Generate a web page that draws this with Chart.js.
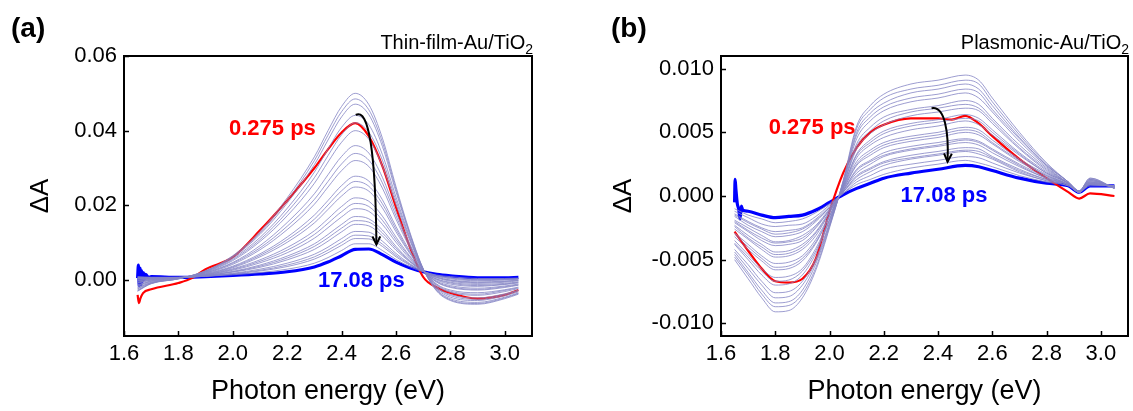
<!DOCTYPE html>
<html>
<head>
<meta charset="utf-8">
<script src="https://cdn.jsdelivr.net/npm/chart.js@4.4.1/dist/chart.umd.min.js"></script>
<style>
  body { margin: 0; background: #fff; }
  #wrap { position: relative; width: 1133px; height: 411px; }
  canvas { position: absolute; top: 0; }
  #chartA { left: 0; }
  #chartB { left: 566px; }
</style>
</head>
<body>
<div id="wrap">
  <canvas id="chartA" width="566" height="411"></canvas>
  <canvas id="chartB" width="567" height="411"></canvas>
</div>
<script>
// ---- tick labels ----
const X_TICKS = [1.6, 1.8, 2.0, 2.2, 2.4, 2.6, 2.8, 3.0];
const Y_TICKS_A = [0, 0.02, 0.04, 0.06];
const Y_TICKS_B = [-0.010, -0.005, 0, 0.005, 0.010];

// ---- panel (a): Thin-film-Au/TiO2 ----
const X_A = [1.65, 1.7, 1.8, 1.9, 2.0, 2.1, 2.2, 2.3, 2.35, 2.4, 2.45, 2.5, 2.55, 2.6, 2.65, 2.7, 2.75, 2.8, 2.9, 3.0, 3.05];
// intermediate delays, largest signal first
const GRAY_A = [
  [-0.0030, -0.0010, 0.0003, 0.0025, 0.0065, 0.0130, 0.0220, 0.0330, 0.0400, 0.0465, 0.0500, 0.0470, 0.0380, 0.0250, 0.0130, 0.0030, -0.0030, -0.0055, -0.0065, -0.0050, -0.0038],
  [-0.0029, -0.0009, 0.0003, 0.0024, 0.0063, 0.0126, 0.0213, 0.0320, 0.0388, 0.0451, 0.0485, 0.0456, 0.0369, 0.0243, 0.0127, 0.0030, -0.0028, -0.0053, -0.0063, -0.0048, -0.0036],
  [-0.0027, -0.0009, 0.0003, 0.0024, 0.0061, 0.0122, 0.0206, 0.0309, 0.0375, 0.0437, 0.0471, 0.0443, 0.0358, 0.0236, 0.0123, 0.0029, -0.0027, -0.0050, -0.0060, -0.0046, -0.0035],
  [-0.0024, -0.0008, 0.0004, 0.0023, 0.0058, 0.0114, 0.0192, 0.0289, 0.0351, 0.0409, 0.0441, 0.0416, 0.0336, 0.0222, 0.0116, 0.0029, -0.0024, -0.0046, -0.0055, -0.0042, -0.0032],
  [-0.0022, -0.0007, 0.0004, 0.0022, 0.0055, 0.0108, 0.0182, 0.0274, 0.0333, 0.0389, 0.0421, 0.0396, 0.0321, 0.0212, 0.0112, 0.0028, -0.0021, -0.0042, -0.0052, -0.0039, -0.0029],
  [-0.0020, -0.0006, 0.0004, 0.0021, 0.0052, 0.0103, 0.0172, 0.0259, 0.0316, 0.0369, 0.0400, 0.0377, 0.0305, 0.0202, 0.0107, 0.0028, -0.0019, -0.0039, -0.0048, -0.0037, -0.0027],
  [-0.0017, -0.0004, 0.0004, 0.0020, 0.0047, 0.0092, 0.0154, 0.0231, 0.0282, 0.0331, 0.0360, 0.0340, 0.0275, 0.0182, 0.0098, 0.0027, -0.0015, -0.0033, -0.0041, -0.0031, -0.0023],
  [-0.0015, -0.0003, 0.0005, 0.0019, 0.0045, 0.0086, 0.0144, 0.0216, 0.0264, 0.0311, 0.0339, 0.0321, 0.0260, 0.0172, 0.0093, 0.0027, -0.0013, -0.0030, -0.0038, -0.0028, -0.0021],
  [-0.0013, -0.0002, 0.0005, 0.0018, 0.0042, 0.0081, 0.0135, 0.0203, 0.0249, 0.0293, 0.0320, 0.0304, 0.0246, 0.0163, 0.0088, 0.0027, -0.0011, -0.0027, -0.0034, -0.0026, -0.0019],
  [-0.0009, 0.0000, 0.0005, 0.0017, 0.0037, 0.0070, 0.0115, 0.0174, 0.0213, 0.0253, 0.0278, 0.0265, 0.0215, 0.0143, 0.0079, 0.0026, -0.0006, -0.0020, -0.0027, -0.0020, -0.0014],
  [-0.0007, 0.0000, 0.0005, 0.0016, 0.0035, 0.0066, 0.0108, 0.0163, 0.0201, 0.0239, 0.0264, 0.0251, 0.0204, 0.0136, 0.0075, 0.0025, -0.0005, -0.0018, -0.0025, -0.0018, -0.0013],
  [-0.0006, 0.0001, 0.0005, 0.0015, 0.0033, 0.0062, 0.0101, 0.0153, 0.0189, 0.0225, 0.0249, 0.0238, 0.0193, 0.0129, 0.0072, 0.0025, -0.0003, -0.0015, -0.0022, -0.0016, -0.0011],
  [-0.0003, 0.0002, 0.0006, 0.0014, 0.0030, 0.0054, 0.0087, 0.0132, 0.0164, 0.0197, 0.0220, 0.0211, 0.0171, 0.0115, 0.0065, 0.0025, 0.0000, -0.0011, -0.0017, -0.0012, -0.0008],
  [-0.0002, 0.0003, 0.0006, 0.0014, 0.0028, 0.0050, 0.0080, 0.0122, 0.0152, 0.0183, 0.0205, 0.0197, 0.0160, 0.0108, 0.0062, 0.0024, 0.0002, -0.0008, -0.0015, -0.0011, -0.0006],
  [0.0000, 0.0003, 0.0006, 0.0013, 0.0026, 0.0046, 0.0073, 0.0112, 0.0140, 0.0169, 0.0191, 0.0184, 0.0149, 0.0101, 0.0058, 0.0024, 0.0003, -0.0006, -0.0012, -0.0009, -0.0005],
  [0.0002, 0.0004, 0.0006, 0.0012, 0.0023, 0.0040, 0.0064, 0.0097, 0.0122, 0.0149, 0.0170, 0.0164, 0.0134, 0.0090, 0.0053, 0.0024, 0.0006, -0.0003, -0.0009, -0.0006, -0.0002],
  [0.0003, 0.0005, 0.0006, 0.0012, 0.0022, 0.0037, 0.0059, 0.0090, 0.0113, 0.0139, 0.0159, 0.0155, 0.0126, 0.0085, 0.0051, 0.0023, 0.0007, -0.0001, -0.0007, -0.0004, -0.0001],
  [0.0004, 0.0005, 0.0006, 0.0012, 0.0021, 0.0034, 0.0054, 0.0082, 0.0104, 0.0129, 0.0149, 0.0145, 0.0118, 0.0080, 0.0049, 0.0023, 0.0008, 0.0000, -0.0005, -0.0003, 0.0000],
  [0.0005, 0.0006, 0.0007, 0.0011, 0.0018, 0.0029, 0.0045, 0.0069, 0.0088, 0.0111, 0.0130, 0.0128, 0.0104, 0.0071, 0.0044, 0.0023, 0.0010, 0.0003, -0.0002, 0.0000, 0.0002],
  [0.0006, 0.0006, 0.0007, 0.0010, 0.0017, 0.0026, 0.0040, 0.0062, 0.0080, 0.0101, 0.0120, 0.0118, 0.0096, 0.0066, 0.0042, 0.0023, 0.0011, 0.0005, 0.0000, 0.0001, 0.0003],
  [0.0007, 0.0007, 0.0007, 0.0010, 0.0016, 0.0024, 0.0036, 0.0056, 0.0073, 0.0093, 0.0111, 0.0110, 0.0090, 0.0062, 0.0040, 0.0023, 0.0012, 0.0006, 0.0001, 0.0002, 0.0004],
  [0.0009, 0.0007, 0.0007, 0.0010, 0.0014, 0.0020, 0.0029, 0.0045, 0.0060, 0.0079, 0.0097, 0.0097, 0.0079, 0.0055, 0.0036, 0.0022, 0.0013, 0.0009, 0.0004, 0.0004, 0.0005]
];
const RED_A_X = [1.65, 1.655, 1.66, 1.67, 1.7, 1.8, 1.85, 1.9, 2.0, 2.1, 2.2, 2.3, 2.35, 2.4, 2.45, 2.5, 2.55, 2.6, 2.65, 2.7, 2.75, 2.8, 2.9, 3.0, 3.05];
const RED_A = [-0.0040, -0.0062, -0.0050, -0.0035, -0.0025, -0.0008, 0.0005, 0.0029, 0.0061, 0.0133, 0.0213, 0.0300, 0.0350, 0.0395, 0.0420, 0.0385, 0.0305, 0.0195, 0.0090, 0.0008, -0.0020, -0.0035, -0.0050, -0.0040, -0.0027];
const BLUE_A_X = [1.65, 1.653, 1.656, 1.659, 1.662, 1.665, 1.668, 1.672, 1.676, 1.68, 1.69, 1.7, 1.8, 1.9, 2.0, 2.1, 2.2, 2.3, 2.35, 2.4, 2.45, 2.5, 2.55, 2.6, 2.65, 2.7, 2.75, 2.8, 2.9, 3.0, 3.05];
const BLUE_A = [0.0005, 0.0040, -0.0015, 0.0032, -0.0012, 0.0025, -0.0004, 0.0019, 0.0002, 0.0015, 0.0006, 0.0009, 0.0007, 0.0009, 0.0012, 0.0016, 0.0022, 0.0035, 0.0048, 0.0065, 0.0082, 0.0083, 0.0068, 0.0048, 0.0033, 0.0022, 0.0015, 0.0011, 0.0006, 0.0006, 0.0007];

// ---- panel (b): Plasmonic-Au/TiO2 ----
const X_B = [1.65, 1.7, 1.75, 1.8, 1.85, 1.9, 1.95, 2.0, 2.05, 2.1, 2.15, 2.2, 2.3, 2.4, 2.5, 2.55, 2.6, 2.7, 2.8, 2.88, 2.92, 2.96, 3.05];
const GRAY_B = [
  [-0.0050, -0.0065, -0.0080, -0.0091, -0.0090, -0.0080, -0.0058, -0.0025, 0.0012, 0.0055, 0.0071, 0.0080, 0.0088, 0.0091, 0.0095, 0.0091, 0.0077, 0.0050, 0.0026, 0.0011, 0.0004, 0.0014, 0.0006],
  [-0.0048, -0.0062, -0.0077, -0.0087, -0.0086, -0.0077, -0.0056, -0.0024, 0.0011, 0.0053, 0.0068, 0.0077, 0.0084, 0.0087, 0.0091, 0.0088, 0.0074, 0.0048, 0.0025, 0.0011, 0.0004, 0.0014, 0.0006],
  [-0.0046, -0.0060, -0.0074, -0.0084, -0.0083, -0.0074, -0.0053, -0.0023, 0.0011, 0.0050, 0.0065, 0.0073, 0.0081, 0.0084, 0.0088, 0.0084, 0.0071, 0.0046, 0.0024, 0.0011, 0.0004, 0.0013, 0.0006],
  [-0.0044, -0.0057, -0.0070, -0.0080, -0.0079, -0.0070, -0.0051, -0.0022, 0.0010, 0.0048, 0.0062, 0.0070, 0.0077, 0.0080, 0.0084, 0.0081, 0.0068, 0.0045, 0.0024, 0.0011, 0.0004, 0.0013, 0.0006],
  [-0.0042, -0.0054, -0.0067, -0.0076, -0.0075, -0.0067, -0.0049, -0.0021, 0.0010, 0.0045, 0.0059, 0.0067, 0.0074, 0.0077, 0.0081, 0.0077, 0.0066, 0.0043, 0.0023, 0.0010, 0.0004, 0.0013, 0.0006],
  [-0.0038, -0.0050, -0.0062, -0.0070, -0.0069, -0.0062, -0.0045, -0.0019, 0.0009, 0.0041, 0.0054, 0.0062, 0.0068, 0.0071, 0.0075, 0.0072, 0.0061, 0.0040, 0.0022, 0.0010, 0.0004, 0.0012, 0.0007],
  [-0.0037, -0.0048, -0.0059, -0.0067, -0.0066, -0.0059, -0.0043, -0.0019, 0.0008, 0.0039, 0.0051, 0.0059, 0.0066, 0.0069, 0.0072, 0.0069, 0.0059, 0.0038, 0.0021, 0.0010, 0.0004, 0.0012, 0.0007],
  [-0.0035, -0.0046, -0.0057, -0.0064, -0.0063, -0.0057, -0.0041, -0.0018, 0.0008, 0.0037, 0.0049, 0.0056, 0.0063, 0.0066, 0.0069, 0.0067, 0.0057, 0.0037, 0.0020, 0.0010, 0.0004, 0.0012, 0.0007],
  [-0.0032, -0.0042, -0.0051, -0.0058, -0.0057, -0.0051, -0.0037, -0.0016, 0.0007, 0.0033, 0.0044, 0.0051, 0.0057, 0.0060, 0.0064, 0.0061, 0.0052, 0.0034, 0.0019, 0.0010, 0.0004, 0.0011, 0.0007],
  [-0.0030, -0.0040, -0.0049, -0.0056, -0.0055, -0.0049, -0.0036, -0.0016, 0.0007, 0.0032, 0.0042, 0.0049, 0.0055, 0.0058, 0.0061, 0.0059, 0.0050, 0.0033, 0.0018, 0.0010, 0.0004, 0.0011, 0.0007],
  [-0.0029, -0.0038, -0.0047, -0.0053, -0.0052, -0.0047, -0.0034, -0.0015, 0.0006, 0.0030, 0.0040, 0.0046, 0.0052, 0.0055, 0.0059, 0.0056, 0.0048, 0.0032, 0.0018, 0.0010, 0.0004, 0.0011, 0.0007],
  [-0.0026, -0.0034, -0.0042, -0.0048, -0.0047, -0.0042, -0.0031, -0.0013, 0.0006, 0.0027, 0.0036, 0.0042, 0.0047, 0.0050, 0.0054, 0.0052, 0.0044, 0.0029, 0.0017, 0.0009, 0.0003, 0.0011, 0.0007],
  [-0.0024, -0.0033, -0.0040, -0.0046, -0.0045, -0.0040, -0.0029, -0.0013, 0.0005, 0.0025, 0.0034, 0.0040, 0.0045, 0.0048, 0.0052, 0.0050, 0.0042, 0.0028, 0.0016, 0.0009, 0.0003, 0.0010, 0.0007],
  [-0.0023, -0.0031, -0.0038, -0.0044, -0.0043, -0.0038, -0.0028, -0.0012, 0.0005, 0.0024, 0.0032, 0.0038, 0.0043, 0.0046, 0.0050, 0.0048, 0.0041, 0.0027, 0.0016, 0.0009, 0.0003, 0.0010, 0.0007],
  [-0.0021, -0.0028, -0.0035, -0.0039, -0.0038, -0.0035, -0.0025, -0.0011, 0.0004, 0.0021, 0.0028, 0.0034, 0.0039, 0.0042, 0.0045, 0.0043, 0.0037, 0.0025, 0.0015, 0.0009, 0.0003, 0.0010, 0.0007],
  [-0.0020, -0.0027, -0.0033, -0.0037, -0.0036, -0.0033, -0.0024, -0.0011, 0.0004, 0.0020, 0.0027, 0.0032, 0.0037, 0.0040, 0.0044, 0.0042, 0.0036, 0.0024, 0.0014, 0.0009, 0.0003, 0.0010, 0.0007],
  [-0.0019, -0.0025, -0.0031, -0.0036, -0.0035, -0.0031, -0.0023, -0.0010, 0.0004, 0.0018, 0.0025, 0.0031, 0.0036, 0.0039, 0.0042, 0.0040, 0.0034, 0.0023, 0.0014, 0.0009, 0.0003, 0.0010, 0.0008],
  [-0.0016, -0.0023, -0.0028, -0.0032, -0.0031, -0.0028, -0.0020, -0.0009, 0.0003, 0.0016, 0.0022, 0.0027, 0.0032, 0.0035, 0.0038, 0.0037, 0.0031, 0.0021, 0.0013, 0.0009, 0.0003, 0.0009, 0.0008],
  [-0.0015, -0.0021, -0.0026, -0.0030, -0.0029, -0.0026, -0.0019, -0.0009, 0.0003, 0.0015, 0.0021, 0.0026, 0.0030, 0.0033, 0.0036, 0.0035, 0.0030, 0.0020, 0.0013, 0.0009, 0.0003, 0.0009, 0.0008],
  [-0.0014, -0.0020, -0.0025, -0.0028, -0.0027, -0.0025, -0.0018, -0.0008, 0.0003, 0.0013, 0.0019, 0.0024, 0.0029, 0.0032, 0.0035, 0.0033, 0.0029, 0.0019, 0.0012, 0.0009, 0.0003, 0.0009, 0.0008],
  [-0.0012, -0.0017, -0.0022, -0.0024, -0.0023, -0.0022, -0.0016, -0.0007, 0.0002, 0.0011, 0.0016, 0.0021, 0.0025, 0.0028, 0.0031, 0.0030, 0.0026, 0.0018, 0.0012, 0.0008, 0.0003, 0.0009, 0.0008],
  [-0.0010, -0.0015, -0.0018, -0.0021, -0.0020, -0.0018, -0.0013, -0.0006, 0.0002, 0.0009, 0.0013, 0.0017, 0.0022, 0.0025, 0.0028, 0.0026, 0.0023, 0.0016, 0.0011, 0.0008, 0.0003, 0.0008, 0.0008]
];
const RED_B_X = [1.65, 1.7, 1.75, 1.8, 1.85, 1.9, 1.95, 2.0, 2.05, 2.1, 2.15, 2.2, 2.3, 2.4, 2.45, 2.5, 2.55, 2.6, 2.7, 2.8, 2.88, 2.92, 2.96, 3.05];
const RED_B = [-0.0028, -0.0043, -0.0057, -0.0067, -0.0068, -0.0065, -0.0049, -0.0012, 0.0018, 0.0038, 0.0050, 0.0056, 0.0061, 0.0061, 0.0060, 0.0063, 0.0057, 0.0047, 0.0029, 0.0014, 0.0003, -0.0002, 0.0002, 0.0000];
const BLUE_B_X = [1.65, 1.652, 1.655, 1.66, 1.665, 1.67, 1.675, 1.68, 1.7, 1.75, 1.8, 1.85, 1.9, 1.95, 2.0, 2.05, 2.1, 2.15, 2.2, 2.3, 2.4, 2.5, 2.55, 2.6, 2.7, 2.8, 2.88, 2.92, 2.96, 3.05];
const BLUE_B = [-0.0005, 0.0013, 0.0005, -0.0006, -0.0010, -0.0018, -0.0008, -0.0011, -0.0012, -0.0015, -0.0017, -0.0016, -0.0015, -0.0011, -0.0005, 0.0001, 0.0006, 0.0010, 0.0014, 0.0018, 0.0021, 0.0024, 0.0023, 0.0020, 0.0014, 0.0010, 0.0008, 0.0003, 0.0008, 0.0008];

const FONT = "'Liberation Sans', Arial, sans-serif";
const GRAY = 'rgba(132, 132, 196, 0.8)';

function series(xs, ys, color, width) {
  return {
    data: xs.map((x, i) => ({ x: x, y: ys[i] })),
    borderColor: color,
    borderWidth: width,
    pointRadius: 0,
    cubicInterpolationMode: 'monotone',
    fill: false
  };
}

// frame, inward ticks, panel labels, annotations and the arrow
const decor = {
  id: 'decor',
  afterDatasetsDraw(chart, args, o) {
    const ctx = chart.ctx;
    const a = chart.chartArea;
    const xs = chart.scales.x, ys = chart.scales.y;
    ctx.save();
    ctx.strokeStyle = '#000';
    ctx.lineWidth = 1.5;
    xs.ticks.forEach(t => {
      const px = Math.round(xs.getPixelForValue(t.value)) + 0.5;
      ctx.beginPath(); ctx.moveTo(px, a.bottom); ctx.lineTo(px, a.bottom - 5); ctx.stroke();
    });
    ys.ticks.forEach(t => {
      const py = Math.round(ys.getPixelForValue(t.value)) + 0.5;
      ctx.beginPath(); ctx.moveTo(a.left, py); ctx.lineTo(a.left + 5, py); ctx.stroke();
    });
    ctx.lineWidth = 2;
    ctx.strokeRect(a.left, a.top, a.right - a.left, a.bottom - a.top);

    // delay labels
    ctx.textAlign = 'left';
    ctx.textBaseline = 'middle';
    ctx.font = 'bold 22px ' + FONT;
    ctx.fillStyle = '#ff0000';
    ctx.fillText('0.275 ps', xs.getPixelForValue(o.red[0]), ys.getPixelForValue(o.red[1]));
    ctx.fillStyle = '#0000ff';
    ctx.fillText('17.08 ps', xs.getPixelForValue(o.blue[0]), ys.getPixelForValue(o.blue[1]));

    // arrow
    const p = o.arrow.map(q => [xs.getPixelForValue(q[0]), ys.getPixelForValue(q[1])]);
    ctx.strokeStyle = '#000';
    ctx.lineWidth = 2;
    ctx.beginPath();
    ctx.moveTo(p[0][0], p[0][1]);
    ctx.bezierCurveTo(p[1][0], p[1][1], p[2][0], p[2][1], p[3][0], p[3][1]);
    ctx.stroke();
    const ang = Math.atan2(p[3][1] - p[2][1], p[3][0] - p[2][0]);
    const L = 9;
    ctx.beginPath();
    ctx.moveTo(p[3][0] - L * Math.cos(ang - 0.45), p[3][1] - L * Math.sin(ang - 0.45));
    ctx.lineTo(p[3][0], p[3][1]);
    ctx.lineTo(p[3][0] - L * Math.cos(ang + 0.45), p[3][1] - L * Math.sin(ang + 0.45));
    ctx.stroke();

    // panel letter
    ctx.fillStyle = '#000';
    ctx.font = 'bold 28px ' + FONT;
    ctx.fillText(o.letter, o.letterX, 29);

    // sample name with subscript, right aligned to the frame
    ctx.textBaseline = 'alphabetic';
    ctx.font = '20px ' + FONT;
    const w1 = ctx.measureText(o.sample).width;
    ctx.font = '14px ' + FONT;
    const w2 = ctx.measureText('2').width;
    const x0 = a.right + 1 - w1 - w2;
    ctx.font = '20px ' + FONT;
    ctx.fillText(o.sample, x0, 49);
    ctx.font = '14px ' + FONT;
    ctx.fillText('2', x0 + w1, 54);
    ctx.restore();
  }
};

function makePanel(id, gray, grayX, redX, red, blueX, blue, yMin, yMax, yTicks, yDigits, pad, yAxisWidth, yTitlePad, deco) {
  const datasets = gray.map(g => series(grayX, g, GRAY, 1));
  datasets.push(series(redX, red, '#ff0000', 2.2));
  datasets.push(series(blueX, blue, '#0000ff', 3.2));
  return new Chart(document.getElementById(id), {
    type: 'line',
    data: { datasets: datasets },
    plugins: [decor],
    options: {
      responsive: false,
      animation: false,
      layout: { padding: pad },
      plugins: { legend: { display: false }, tooltip: { enabled: false }, decor: deco },
      scales: {
        x: {
          type: 'linear', min: 1.6, max: 3.1,
          grid: { display: false, drawTicks: false }, border: { display: false },
          afterBuildTicks: s => { s.ticks = X_TICKS.map(v => ({ value: v })); },
          afterFit: s => { s.height = 75; },
          ticks: {
            color: '#000', padding: 5, maxRotation: 0,
            font: { family: FONT, size: 22 },
            callback: v => v.toFixed(1)
          },
          title: {
            display: true, text: 'Photon energy (eV)', color: '#000',
            font: { family: FONT, size: 27 }, padding: { top: 0, bottom: 3 }
          }
        },
        y: {
          type: 'linear', min: yMin, max: yMax,
          grid: { display: false, drawTicks: false }, border: { display: false },
          afterBuildTicks: s => { s.ticks = yTicks.map(v => ({ value: v })); },
          afterFit: s => { s.width = yAxisWidth; },
          ticks: {
            color: '#000', padding: 7,
            font: { family: FONT, size: 22 },
            callback: v => v.toFixed(yDigits)
          },
          title: {
            display: true, text: 'ΔA', color: '#000',
            font: { family: FONT, size: 26 }, padding: { top: yTitlePad, bottom: 0 }
          }
        }
      }
    }
  });
}

makePanel('chartA', GRAY_A, X_A, RED_A_X, RED_A, BLUE_A_X, BLUE_A,
  -0.015, 0.06, Y_TICKS_A, 2,
  { left: 0, top: 56, right: 34, bottom: 0 }, 124, 25,
  { letter: '(a)', letterX: 11, sample: 'Thin-film-Au/TiO',
    red: [1.986, 0.0404], blue: [2.313, -0.0003],
    arrow: [[2.452, 0.0442], [2.50, 0.0462], [2.525, 0.034], [2.528, 0.0095]] });

makePanel('chartB', GRAY_B, X_B, RED_B_X, RED_B, BLUE_B_X, BLUE_B,
  -0.011, 0.011, Y_TICKS_B, 3,
  { left: 0, top: 56, right: 5, bottom: 0 }, 155, 42,
  { letter: '(b)', letterX: 45, sample: 'Plasmonic-Au/TiO',
    red: [1.776, 0.00536], blue: [2.262, 0.0],
    arrow: [[2.376, 0.0069], [2.425, 0.0071], [2.44, 0.0050], [2.435, 0.0027]] });
</script>
</body>
</html>
